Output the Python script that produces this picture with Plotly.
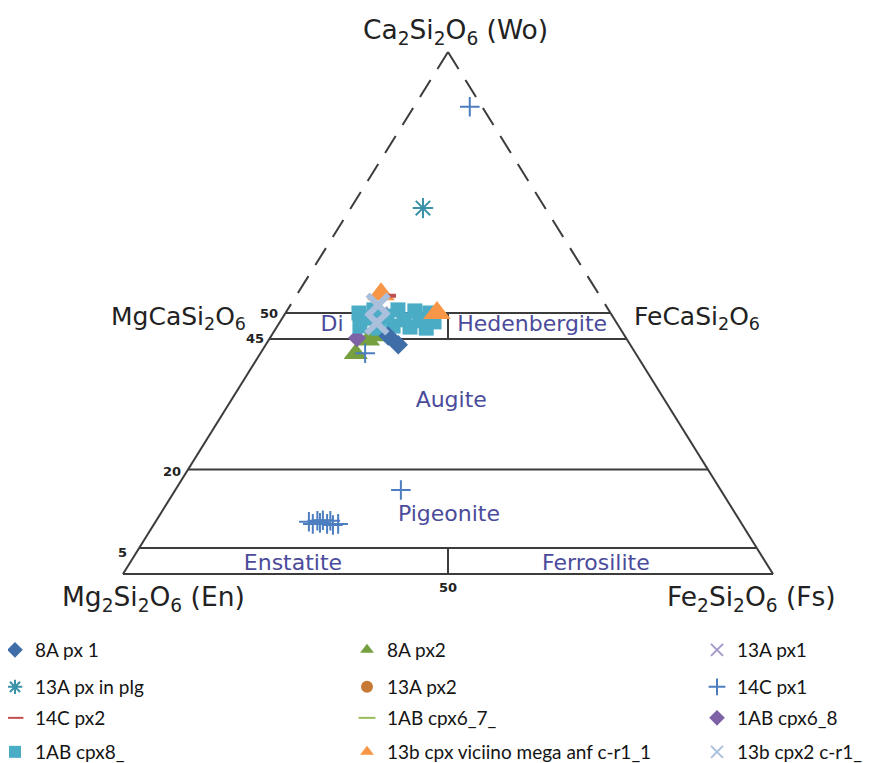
import plotly.graph_objects as go

# ---------------- data: compositions in mol % (Wo, En, Fs) ----------------
px8a1_wo = [45.6, 43.9]
px8a1_en = [36.4, 35.7]
px8a1_fs = [18.0, 20.4]

px8a2_wo = [42.2, 44.8, 45.6]
px8a2_en = [43.1, 39.9, 37.7]
px8a2_fs = [14.7, 15.3, 16.7]

px13a1_wo = [49.6]
px13a1_en = [35.7]
px13a1_fs = [14.7]

px13a_plg_wo = [70.1]
px13a_plg_en = [18.8]
px13a_plg_fs = [11.1]

px13a2_wo = [49.0]
px13a2_en = [37.2]
px13a2_fs = [13.8]

px14c1_wo = [89.5, 16.1, 42.3, 10.0, 9.6, 10.2, 9.8, 10.3, 9.6, 10.2, 9.4, 9.6]
px14c1_en = [1.9, 49.2, 41.6, 66.4, 66.0, 65.0, 64.8, 64.1, 63.8, 63.0, 63.0, 62.1]
px14c1_fs = [8.6, 34.7, 16.1, 23.6, 24.4, 24.8, 25.4, 25.6, 26.6, 26.8, 27.6, 28.3]

px14c2_wo = [53.3]
px14c2_en = [32.0]
px14c2_fs = [14.7]

cpx67_wo = [48.7]
cpx67_en = [35.3]
cpx67_fs = [16.0]

cpx68_wo = [45.2]
cpx68_en = [41.4]
cpx68_fs = [13.4]

cpx8_wo = [50.0, 47.5, 49.0, 50.6, 47.1, 49.4, 47.5, 50.6, 48.7, 47.3, 50.4, 48.5, 47.1, 50.0, 48.3]
cpx8_en = [38.7, 39.8, 37.8, 36.1, 37.2, 34.7, 34.7, 32.4, 32.4, 32.2, 29.9, 30.1, 29.8, 27.8, 28.0]
cpx8_fs = [11.3, 12.7, 13.2, 13.3, 15.7, 15.9, 17.8, 17.0, 18.9, 20.5, 19.7, 21.4, 23.1, 22.2, 23.7]

cpx13b_vic_wo = [53.6, 50.0]
cpx13b_vic_en = [33.5, 26.7]
cpx13b_vic_fs = [12.9, 23.3]

cpx13b_2_wo = [51.5, 48.1]
cpx13b_2_en = [35.0, 36.9]
cpx13b_2_fs = [13.5, 15.0]

# field boundaries (Wo levels) and field names
boundary_wo = [5, 20, 45, 50]
field_names = ["Di", "Hedenbergite", "Augite", "Pigeonite", "Enstatite", "Ferrosilite"]
field_wo = [47.7, 47.7, 33.0, 11.3, 1.9, 1.9]
field_fs = [8.3, 39.1, 34.0, 44.5, 25.2, 71.8]


def tern(wo, en, fs):
    xs, ys = [], []
    for w, e, f in zip(wo, en, fs):
        if w is None:
            xs.append(None)
            ys.append(None)
            continue
        t = w + e + f
        w, f = 100 * w / t, 100 * f / t
        xs.append(f + w / 2)
        ys.append(w)
    return xs, ys


fig = go.Figure()

# ---- frame lines (solid) ----
lw, le, lf = [], [], []
segs = [((0, 100, 0), (0, 0, 100)),
        ((0, 100, 0), (50, 50, 0)),
        ((0, 0, 100), (50, 0, 50)),
        ((0, 50, 50), (5, 47.5, 47.5)),
        ((45, 27.5, 27.5), (50, 25, 25))]
for w in boundary_wo:
    segs.append(((w, 100 - w, 0), (w, 0, 100 - w)))
for a, b in segs:
    for p in (a, b):
        lw.append(p[0]); le.append(p[1]); lf.append(p[2])
    lw.append(None); le.append(None); lf.append(None)
sx, sy = tern(lw, le, lf)
fig.add_trace(go.Scatter(x=sx, y=sy, mode="lines", line=dict(color="#3c3c3c", width=2),
                         showlegend=False, hoverinfo="skip"))

# ---- dashed upper lines to apex ----
dx, dy = tern([100, 50, None, 100, 50], [0, 50, None, 0, 0], [0, 0, None, 0, 50])
fig.add_trace(go.Scatter(x=dx, y=dy, mode="lines",
                         line=dict(color="#3c3c3c", width=2, dash="20px,13px"),
                         showlegend=False, hoverinfo="skip"))

# ---- field names ----
fx, fy = tern(field_wo, [100 - w - f for w, f in zip(field_wo, field_fs)], field_fs)
fig.add_trace(go.Scatter(x=fx, y=fy, mode="text", text=field_names,
                         textfont=dict(family="DejaVu Sans", size=22, color="#4b4b9b"),
                         showlegend=False, hoverinfo="skip"))

# ---- data series (listed in legend order) ----
series = [
    ("8A px 1", px8a1_wo, px8a1_en, px8a1_fs, "diamond", "#3e6da8", 15, 0),
    ("8A px2", px8a2_wo, px8a2_en, px8a2_fs, "triangle-up", "#76a03f", 21, 0),
    ("13A px1", px13a1_wo, px13a1_en, px13a1_fs, "x-thin", "#a598cb", 16, 3),
    ("13A px in plg", px13a_plg_wo, px13a_plg_en, px13a_plg_fs, "asterisk", "#3a93a8", 17, 2),
    ("13A px2", px13a2_wo, px13a2_en, px13a2_fs, "circle", "#c77a35", 13, 0),
    ("14C px1", px14c1_wo, px14c1_en, px14c1_fs, "cross-thin", "#4c7ec0", 14, 2),
    ("14C px2", px14c2_wo, px14c2_en, px14c2_fs, "line-ew", "#c0504d", 6, 4),
    ("1AB cpx6_7_", cpx67_wo, cpx67_en, cpx67_fs, "line-ew", "#9bbb59", 10, 3),
    ("1AB cpx6_8", cpx68_wo, cpx68_en, cpx68_fs, "diamond", "#7e62a6", 14, 0),
    ("1AB cpx8_", cpx8_wo, cpx8_en, cpx8_fs, "square", "#4bacc6", 15, 0),
    ("13b cpx viciino mega anf c-r1_1", cpx13b_vic_wo, cpx13b_vic_en, cpx13b_vic_fs,
     "triangle-up", "#f79646", 24, 0),
    ("13b cpx2 c-r1_", cpx13b_2_wo, cpx13b_2_en, cpx13b_2_fs, "x-thin", "#aabfdc", 21, 6),
]
legend_ids = ["legend"] + ["legend%d" % k for k in range(2, 13)]
# stacking order of the marks (bottom first)
draw_order = [1, 8, 4, 2, 7, 9, 0, 5, 3, 10, 6, 11]
for i in draw_order:
    name, w, e, f, sym, col, size, lwid = series[i]
    x, y = tern(w, e, f)
    fig.add_trace(go.Scatter(
        x=x, y=y, mode="markers", name=name, legend=legend_ids[i],
        marker=dict(symbol=sym, color=col, size=size,
                    line=dict(width=lwid, color=col)),
    ))

# figure sits at an 8px page offset; reference pixel -> data coords
def px_to_data(px, py):
    return (px - 123) / 6.5, (574 - py) / 5.22

ann = []
big = dict(family="DejaVu Sans", size=26.5, color="#222222")
mid = dict(family="DejaVu Sans", size=25, color="#222222")
for txt, px, py, fnt in [("Ca<sub>2</sub>Si<sub>2</sub>O<sub>6</sub> (Wo)", 455, 31, big),
                         ("MgCaSi<sub>2</sub>O<sub>6</sub>", 178, 318, mid),
                         ("FeCaSi<sub>2</sub>O<sub>6</sub>", 697, 318, mid),
                         ("Mg<sub>2</sub>Si<sub>2</sub>O<sub>6</sub> (En)", 153, 598, big),
                         ("Fe<sub>2</sub>Si<sub>2</sub>O<sub>6</sub> (Fs)", 751, 598, big)]:
    x, y = px_to_data(px, py)
    ann.append(dict(x=x, y=y, xref="x", yref="y", text=txt, showarrow=False, font=fnt))
small = dict(family="DejaVu Sans", size=13, color="#222222", weight="bold")
for txt, px, py in [("50", 269, 313), ("45", 255, 338), ("20", 172, 471), ("5", 122, 552),
                    ("50", 448, 587)]:
    x, y = px_to_data(px, py)
    ann.append(dict(x=x, y=y, xref="x", yref="y", text=txt, showarrow=False, font=small))

FIG_W, FIG_H = 869, 755
legfont = dict(family="Lato", size=19, color="#141414")
col_marker_px = [14, 366, 716]
row_px = [650, 687, 718, 752]
legends = {}
for i, lid in enumerate(legend_ids):
    r, c = divmod(i, 3)
    legends[lid] = dict(
        orientation="v", xanchor="left", yanchor="middle",
        x=(col_marker_px[c] - 8 - 19) / FIG_W,
        y=1 - (row_px[r] - 8) / FIG_H,
        font=legfont, itemsizing="constant", bgcolor="rgba(0,0,0,0)",
    )

fig.update_layout(
    width=FIG_W, height=FIG_H,
    margin=dict(l=0, r=0, t=0, b=0, autoexpand=False),
    paper_bgcolor="white", plot_bgcolor="white",
    xaxis=dict(range=[-115 / 6.5, (FIG_W - 115) / 6.5], visible=False, fixedrange=True),
    yaxis=dict(range=[(566 - FIG_H) / 5.22, 566 / 5.22], visible=False, fixedrange=True),
    annotations=ann,
    showlegend=True,
    **legends,
)

fig.write_html("out.html")
